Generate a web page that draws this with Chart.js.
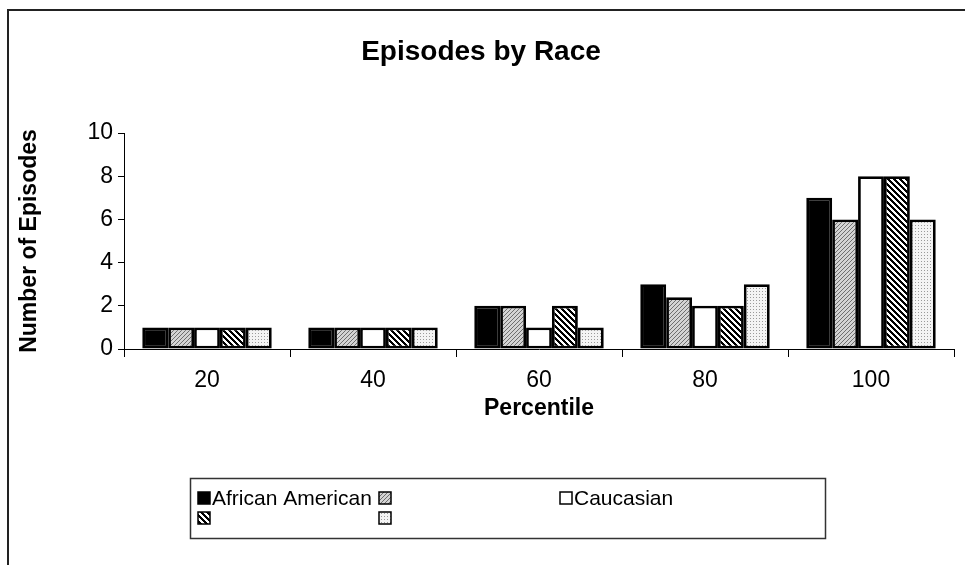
<!DOCTYPE html>
<html>
<head>
<meta charset="utf-8">
<script src="https://cdn.jsdelivr.net/npm/chart.js@4.4.1/dist/chart.umd.min.js"></script>
<style>
  body { margin: 0; background: #fff; }
  #chart { display: block; }
</style>
</head>
<body>
<canvas id="chart" width="965" height="565"></canvas>
<script>
// data
const percentiles = ['20', '40', '60', '80', '100'];
const seriesNames = ['African American', '', 'Caucasian', '', ''];
const africanAmerican = [1, 1, 2, 3, 7];
const series2 = [1, 1, 2, 2.4, 6];
const caucasian = [1, 1, 1, 2, 8];
const series4 = [1, 1, 2, 2, 8];
const series5 = [1, 1, 1, 3, 6];

const FONT = 'Arial, "Liberation Sans", sans-serif';

// small tile patterns like the old excel fills
function makePattern(size, draw) {
    const c = document.createElement('canvas');
    c.width = size;
    c.height = size;
    const g = c.getContext('2d');
    draw(g, size);
    return document.getElementById('chart').getContext('2d').createPattern(c, 'repeat');
}

const grayHatch = makePattern(4, (g, s) => {
    g.fillStyle = '#d4d4d4';
    g.fillRect(0, 0, s, s);
    g.fillStyle = '#6e6e6e';
    for (let i = 0; i < s; i++) g.fillRect(s - 1 - i, i, 1, 1);
});

const bwStripes = makePattern(6, (g, s) => {
    g.fillStyle = '#fff';
    g.fillRect(0, 0, s, s);
    g.fillStyle = '#000';
    for (let i = 0; i < s; i++) {
        g.fillRect(i, i, 1, 1);
        g.fillRect((i + 1) % s, i, 1, 1);
        g.fillRect((i + 2) % s, i, 1, 1);
    }
});

const dots = makePattern(3, (g, s) => {
    g.fillStyle = '#f4f4f4';
    g.fillRect(0, 0, s, s);
    g.fillStyle = '#9a9a9a';
    g.fillRect(0, 0, 1, 1);
});

const fills = ['#000000', grayHatch, '#ffffff', bwStripes, dots];
const values = [africanAmerican, series2, caucasian, series4, series5];

// frame, legend box
const decorations = {
    id: 'decorations',
    afterDraw(chart) {
        const ctx = chart.ctx;
        ctx.save();
        ctx.strokeStyle = '#222';
        ctx.lineWidth = 2;
        ctx.strokeRect(8, 10, 1200, 1200);

        ctx.lineWidth = 1.5;
        ctx.strokeStyle = '#333';
        ctx.strokeRect(190.5, 478.5, 635, 60);

        const cols = [198, 379, 560];
        const rows = [498, 518];
        ctx.font = '21px ' + FONT;
        ctx.textBaseline = 'middle';
        chart.data.datasets.forEach((ds, i) => {
            const x = cols[i % 3];
            const y = rows[Math.floor(i / 3)];
            ctx.fillStyle = ds.backgroundColor;
            ctx.fillRect(x, y - 6, 12, 12);
            ctx.lineWidth = 1.5;
            ctx.strokeStyle = '#000';
            ctx.strokeRect(x, y - 6, 12, 12);
            ctx.fillStyle = '#000';
            ctx.fillText(ds.label, x + 14, y + 1);
        });
        ctx.restore();
    }
};

new Chart(document.getElementById('chart'), {
    type: 'bar',
    data: {
        labels: percentiles,
        datasets: values.map((v, i) => ({
            label: seriesNames[i],
            data: v,
            backgroundColor: fills[i],
            borderColor: '#000',
            borderWidth: 2.8,
            borderSkipped: false,
            categoryPercentage: 0.78,
            barPercentage: 1.0
        }))
    },
    options: {
        responsive: false,
        animation: false,
        layout: { padding: { left: 8, right: 11, top: 10, bottom: 136 } },
        plugins: {
            legend: { display: false },
            tooltip: { enabled: false },
            title: {
                display: true,
                text: 'Episodes by Race',
                color: '#000',
                font: { family: FONT, size: 28, weight: 'bold' },
                padding: { top: 25, bottom: 64.4 }
            }
        },
        scales: {
            x: {
                afterFit: s => { s.height = 80; },
                grid: { offset: true, drawOnChartArea: false, tickLength: 8, color: '#000', lineWidth: 1 },
                border: { color: '#000', width: 1 },
                ticks: { color: '#000', font: { family: FONT, size: 23 }, padding: 10 },
                title: { display: true, text: 'Percentile', color: '#000', font: { family: FONT, size: 23, weight: 'bold' }, padding: { top: 0, bottom: 7 } }
            },
            y: {
                min: 0,
                max: 10,
                afterFit: s => { s.width = 116; },
                grid: { drawOnChartArea: false, tickLength: 6, color: '#000', lineWidth: 1 },
                border: { color: '#000', width: 1 },
                ticks: { stepSize: 2, color: '#000', font: { family: FONT, size: 23 }, padding: 5 },
                title: { display: true, text: 'Number of Episodes', color: '#000', font: { family: FONT, size: 23, weight: 'bold' }, padding: { top: 8, bottom: 0 } }
            }
        }
    },
    plugins: [decorations]
});
</script>
</body>
</html>
